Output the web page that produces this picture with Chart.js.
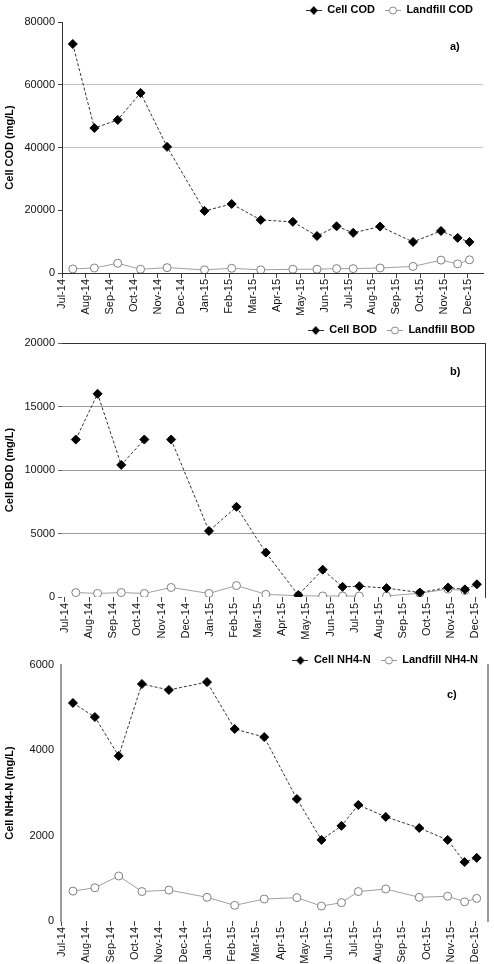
<!DOCTYPE html>
<html>
<head>
<meta charset="utf-8">
<title>Cell vs Landfill leachate</title>
<script src="https://cdn.jsdelivr.net/npm/chart.js@4.4.1/dist/chart.umd.min.js"></script>
<style>
    body { margin: 0; background: #fff; }
    .panel { position: absolute; left: 0; width: 494px; }
</style>
</head>
<body>
<div class="panel" style="top:0;height:320px"><canvas id="chartCOD"></canvas></div>
<div class="panel" style="top:322px;height:322px"><canvas id="chartBOD"></canvas></div>
<div class="panel" style="top:644px;height:320px"><canvas id="chartNH4"></canvas></div>
<script>
// Tick labels on the x axis (one per month)
var monthLabels = ['Jul-14', 'Aug-14', 'Sep-14', 'Oct-14', 'Nov-14', 'Dec-14', 'Jan-15', 'Feb-15', 'Mar-15',
    'Apr-15', 'May-15', 'Jun-15', 'Jul-15', 'Aug-15', 'Sep-15', 'Oct-15', 'Nov-15', 'Dec-15'];

// Sampling dates (same for all three panels)
var sampleDates = ['2014-07-15', '2014-08-12', '2014-09-11', '2014-10-10', '2014-11-13', '2014-12-31',
    '2015-02-04', '2015-03-11', '2015-04-21', '2015-05-22', '2015-06-16', '2015-07-07', '2015-08-11',
    '2015-09-22', '2015-10-28', '2015-11-18', '2015-12-03'];

// a) COD (mg/L)
var cellCOD = [73000, 46200, 48800, 57400, 40200, 19800, 22000, 16900, 16300, 11800, 14900, 12800, 14800, 9900, 13400, 11200, 9900];
var landfillCOD = [1300, 1600, 3100, 1200, 1700, 1000, 1500, 1000, 1200, 1200, 1400, 1400, 1600, 2100, 4100, 2900, 4200];

// b) BOD (mg/L)
var cellBOD = [12400, 16000, 10400, 12400, 12400, 5200, 7100, 3500, 150, 2150, 800, 850, 700, 350, 750, 600, 1000];
var landfillBOD = [350, 280, 350, 280, 750, 280, 900, 210, 100, 80, 80, 80, 80, 300, 620, 500, null];
var cellBODBreaks = [3];      // segment after this index is not drawn
var landfillBODBreaks = [11];

// c) NH4-N (mg/L)
var cellNH4 = [5110, 4780, 3870, 5555, 5415, 5600, 4500, 4310, 2860, 1900, 2230, 2720, 2440, 2180, 1900, 1380, 1480];
var landfillNH4 = [700, 780, 1055, 690, 725, 555, 367, 515, 547, 350, 430, 690, 750, 555, 580, 450, 530];

var FONT = 'Arial, "Liberation Sans", sans-serif';

// date -> months since Jul-14 (fractional)
function monthPos(d) {
    var p = d.split('-').map(Number);
    var days = new Date(p[0], p[1], 0).getDate();
    return (p[0] - 2014) * 12 + (p[1] - 7) + (p[2] - 1) / days;
}

function toPoints(values) {
    return values.map(function (v, i) { return { x: monthPos(sampleDates[i]), y: v }; });
}

// small legend icons: line with the marker in the middle
function legendIcon(filled) {
    var c = document.createElement('canvas');
    c.width = 16; c.height = 10;
    var g = c.getContext('2d');
    g.strokeStyle = filled ? '#333' : '#999';
    g.lineWidth = 1;
    g.beginPath(); g.moveTo(0, 5.5); g.lineTo(16, 5.5); g.stroke();
    if (filled) {
        g.fillStyle = '#000';
        g.beginPath(); g.moveTo(8, 1); g.lineTo(12, 5.5); g.lineTo(8, 10); g.lineTo(4, 5.5); g.closePath(); g.fill();
    } else {
        g.fillStyle = '#fff'; g.strokeStyle = '#888';
        g.beginPath(); g.arc(8, 5.5, 3.5, 0, Math.PI * 2); g.fill(); g.stroke();
    }
    return c;
}

// panel tag "a)", "b)", "c)"
var panelTag = {
    id: 'panelTag',
    afterDraw: function (chart, args, opts) {
        var ctx = chart.ctx, a = chart.chartArea;
        ctx.save();
        ctx.font = 'bold 11px ' + FONT;
        ctx.fillStyle = '#000';
        ctx.textBaseline = 'middle';
        ctx.fillText(opts.text, a.right - opts.dx, a.top + opts.dy);
        ctx.restore();
    }
};

function makeChart(id, cfg) {
    var breaksOf = function (list, color) {
        return function (c) { return list && list.indexOf(c.p0DataIndex) >= 0 ? 'rgba(0,0,0,0)' : color; };
    };
    var scales = {
        x: {
            type: 'linear',
            min: cfg.xMin,
            max: cfg.xMax,
            afterBuildTicks: function (s) { s.ticks = monthLabels.map(function (l, i) { return { value: i }; }); },
            ticks: {
                autoSkip: false, minRotation: 90, maxRotation: 90, padding: 1,
                color: '#111', font: { family: FONT, size: 11 },
                callback: function (v) { return monthLabels[v]; }
            },
            grid: { drawOnChartArea: false, drawTicks: true, tickLength: 5, color: '#444' },
            border: { display: cfg.xBorder, color: '#333', width: 1 },
            afterFit: function (s) { s.height = cfg.height - cfg.bottom; }
        },
        y: {
            min: 0,
            max: cfg.yMax,
            ticks: {
                stepSize: cfg.yStep, padding: 3, color: '#111', font: { family: FONT, size: 11 },
                callback: function (v) { return String(v); }
            },
            grid: {
                color: function (c) { return cfg.gridColor(c.tick.value); },
                tickColor: cfg.tickColor, tickLength: 4, lineWidth: 1
            },
            border: { display: cfg.leftBorder, color: cfg.leftColor, width: cfg.leftWidth },
            title: {
                display: true, text: cfg.yTitle, color: '#000',
                font: { family: FONT, size: 11, weight: 'bold' }, padding: { top: 3, bottom: 0 }
            },
            afterFit: function (s) { s.width = cfg.left; }
        }
    };
    if (cfg.rightBorder) {
        scales.yR = {
            position: 'right',
            ticks: { display: false },
            grid: { drawOnChartArea: false, drawTicks: false },
            border: { display: true, color: cfg.rightColor, width: cfg.rightWidth },
            afterFit: function (s) { s.width = 0; }
        };
    }
    var icons = [legendIcon(true), legendIcon(false)];
    return new Chart(document.getElementById(id).getContext('2d'), {
        type: 'line',
        data: {
            datasets: [{
                label: cfg.names[0],
                data: toPoints(cfg.cell),
                borderColor: '#333',
                borderWidth: 1,
                borderDash: [3, 2],
                pointStyle: 'rectRot',
                pointRadius: 4.5,
                pointBackgroundColor: '#000',
                pointBorderColor: '#000',
                pointBorderWidth: 1,
                segment: { borderColor: breaksOf(cfg.cellBreaks, '#333') }
            }, {
                label: cfg.names[1],
                data: toPoints(cfg.landfill),
                borderColor: '#a0a0a0',
                borderWidth: 1,
                pointStyle: 'circle',
                pointRadius: 4,
                pointBackgroundColor: '#fff',
                pointBorderColor: '#808080',
                pointBorderWidth: 1,
                segment: { borderColor: breaksOf(cfg.landBreaks, '#a0a0a0') }
            }]
        },
        options: {
            responsive: true,
            maintainAspectRatio: false,
            animation: false,
            layout: { padding: { top: cfg.padTop, left: 0, right: 494 - cfg.right, bottom: 0 } },
            scales: scales,
            plugins: {
                tooltip: { enabled: false },
                legend: {
                    position: 'top',
                    align: 'end',
                    maxHeight: cfg.legendH,
                    labels: {
                        usePointStyle: true,
                        pointStyleWidth: 16,
                        boxHeight: 10,
                        padding: 10,
                        color: '#000',
                        font: { family: FONT, size: 11, weight: 'bold' },
                        generateLabels: function (chart) {
                            var items = Chart.defaults.plugins.legend.labels.generateLabels(chart);
                            items.forEach(function (it, i) { it.pointStyle = icons[i]; });
                            return items;
                        }
                    }
                },
                panelTag: cfg.tag
            }
        },
        plugins: [panelTag]
    });
}

makeChart('chartCOD', {
    cell: cellCOD, landfill: landfillCOD, names: ['Cell COD', 'Landfill COD'],
    yTitle: 'Cell COD (mg/L)', yMax: 80000, yStep: 20000,
    gridColor: function (v) { return (v === 40000 || v === 60000) ? '#c4c4c4' : 'rgba(0,0,0,0)'; },
    tickColor: '#444', leftBorder: true, leftColor: '#333', leftWidth: 1,
    rightBorder: false, xBorder: true,
    xMin: 0, xMax: 17.63,
    height: 320, bottom: 273, left: 62, right: 483, padTop: -5.5, legendH: 27.5,
    tag: { text: 'a)', dx: 33, dy: 25 }
});

makeChart('chartBOD', {
    cell: cellBOD, landfill: landfillBOD, names: ['Cell BOD', 'Landfill BOD'],
    cellBreaks: cellBODBreaks, landBreaks: landfillBODBreaks,
    yTitle: 'Cell BOD (mg/L)', yMax: 20000, yStep: 5000,
    gridColor: function (v) { return v === 20000 ? '#333' : (v === 0 ? 'rgba(0,0,0,0)' : '#9a9a9a'); },
    tickColor: '#666', leftBorder: false, leftColor: '#333', leftWidth: 1,
    rightBorder: true, rightColor: '#333', rightWidth: 1, xBorder: false,
    xMin: -0.12, xMax: 17.4,
    height: 322, bottom: 275, left: 62, right: 485, padTop: -7.5, legendH: 28.5,
    tag: { text: 'b)', dx: 35, dy: 29 }
});

makeChart('chartNH4', {
    cell: cellNH4, landfill: landfillNH4, names: ['Cell NH4-N', 'Landfill NH4-N'],
    yTitle: 'Cell NH4-N (mg/L)', yMax: 6000, yStep: 2000,
    gridColor: function () { return 'rgba(0,0,0,0)'; },
    tickColor: 'rgba(0,0,0,0)', leftBorder: true, leftColor: '#9a9a9a', leftWidth: 2,
    rightBorder: true, rightColor: '#9a9a9a', rightWidth: 2, xBorder: false,
    xMin: -0.04, xMax: 17.53,
    height: 320, bottom: 277, left: 61, right: 488, padTop: 0.5, legendH: 20.5,
    tag: { text: 'c)', dx: 41, dy: 30 }
});
</script>
</body>
</html>
